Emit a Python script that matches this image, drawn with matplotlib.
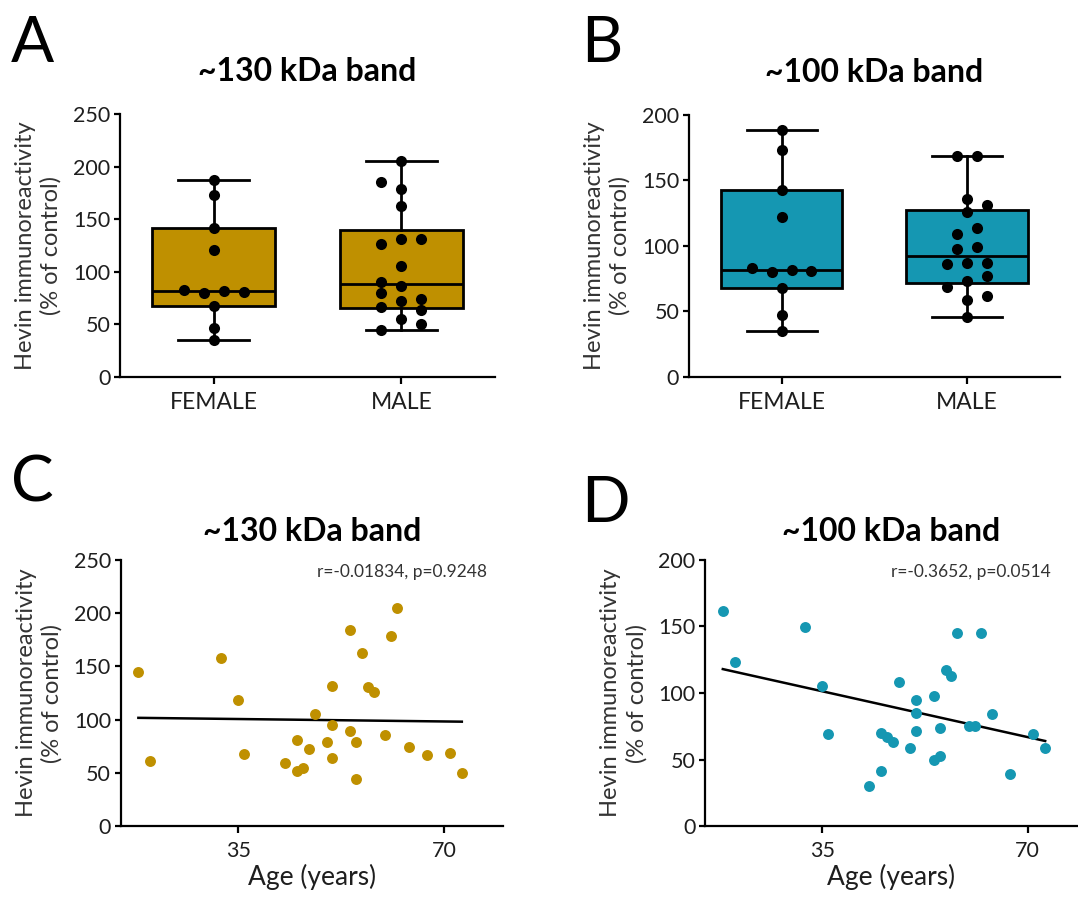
import numpy as np
import matplotlib
matplotlib.use('Agg')
import matplotlib.pyplot as plt

plt.rcParams['font.family'] = ['Lato', 'DejaVu Sans']

# ---- data ----
groups = ['FEMALE', 'MALE']

# ~130 kDa band, % of control
a_female = [187, 173, 142, 121, 82.5, 80, 81.5, 80.5, 67.5, 46.5, 35]
a_male = [205, 185, 178.5, 163, 131, 131.5, 126, 105.5, 90, 86.5, 79.5,
          72.5, 74.5, 66.5, 63.5, 55, 50, 44.5]

# ~100 kDa band, % of control
b_female = [188.5, 173, 142.5, 122, 83, 80.5, 81.5, 81, 68, 47, 35]
b_male = [168.5, 168.5, 136, 131.5, 126, 114, 109.5, 99.5, 97.5, 86, 87,
          87, 77, 73, 68.5, 61.5, 59, 45.5]

ages = [18, 20, 32, 35, 36, 43, 45, 45, 46, 47, 48, 50, 51, 51, 51, 54, 54,
        55, 55, 56, 57, 58, 60, 61, 62, 64, 67, 71, 73]
c_vals = [144.5, 61.5, 158, 118, 68, 59.5, 81, 51.5, 55, 72, 105, 79, 131.5,
          94.5, 63.5, 184.5, 89, 78.5, 44.5, 163, 130.5, 125.5, 86, 178.5,
          204.5, 74, 67, 68.5, 50]
d_vals = [162, 123.5, 149.5, 105, 69, 30, 70, 41, 67, 63, 108.5, 58.5, 95,
          85, 71.5, 98, 50, 74, 53, 117, 113, 145, 75, 75, 145, 84, 39, 69.5,
          58.5]

c_stats = 'r=-0.01834, p=0.9248'
d_stats = 'r=-0.3652, p=0.0514'

# ---- layout (dot spread inside each box, in category units) ----
f_off = [0, 0, 0, 0, -0.16, -0.053, 0.053, 0.16, 0, 0, 0]
a_m_off = [0, -0.107, 0, 0, 0, 0.107, -0.107, 0, -0.107, 0, -0.107, 0, 0.107,
           -0.107, 0.107, 0, 0.107, -0.107]
b_m_off = [-0.053, 0.053, 0, 0.107, 0, 0.053, -0.053, 0.053, -0.053, -0.107,
           0, 0.107, 0.107, 0, -0.107, 0.107, 0, 0]

gold = '#BF9000'
teal = '#1597B2'
txt = '#1e1e1e'

fig = plt.figure(figsize=(10.78, 9.01), dpi=100)


def style_axis(ax):
    for s in ['top', 'right']:
        ax.spines[s].set_visible(False)
    for s in ['left', 'bottom']:
        ax.spines[s].set_linewidth(1.6)
    ax.tick_params(axis='y', length=4, width=1.6, labelsize=15.5, colors='black',
                   labelcolor=txt, pad=3)
    ax.tick_params(axis='x', length=5, width=1.6, labelsize=15.5, colors='black',
                   labelcolor=txt, pad=6)
    ax.set_ylabel('Hevin immunoreactivity\n(% of control)', fontsize=17,
                  color='#333333', linespacing=1.25, labelpad=8)


def box_panel(rect, female, male, m_off, color, ymax, title, letter, lx, ly):
    ax = fig.add_axes(rect)
    stats = []
    for lab, vals in zip(groups, [female, male]):
        v = np.array(vals)
        q1, med, q3 = np.percentile(v, [25, 50, 75], method='weibull')
        stats.append(dict(label=lab, med=med, q1=q1, q3=q3,
                          whislo=v.min(), whishi=v.max(), fliers=[]))
    ax.bxp(stats, positions=[0, 1], widths=0.655, capwidths=0.376,
           patch_artist=True, showfliers=False,
           boxprops=dict(facecolor=color, edgecolor='black', linewidth=2),
           medianprops=dict(color='black', linewidth=2),
           whiskerprops=dict(color='black', linewidth=2),
           capprops=dict(color='black', linewidth=2))
    ax.plot(np.array(f_off), female, 'o', color='black', ms=8, mew=0, zorder=4)
    ax.plot(1 + np.array(m_off), male, 'o', color='black', ms=8, mew=0, zorder=4)
    ax.set_xlim(-0.5, 1.5)
    ax.set_ylim(0, ymax)
    ax.set_yticks(np.arange(0, ymax + 1, 50))
    ax.set_xticks([0, 1])
    ax.set_xticklabels(groups)
    style_axis(ax)
    ax.tick_params(axis='x', labelsize=16.5)
    ax.set_title(title, fontsize=23, fontweight='bold', pad=24, color='black')
    fig.text(lx, ly, letter, fontsize=46, color='black', va='baseline')
    return ax


def scatter_panel(rect, vals, color, ymax, xmax, title, stats_txt, sx, letter, lx, ly):
    ax = fig.add_axes(rect)
    ax.scatter(ages, vals, s=62, color=color, linewidths=0, zorder=3)
    slope, icpt = np.polyfit(ages, vals, 1)
    xs = np.array([min(ages), max(ages)])
    ax.plot(xs, slope * xs + icpt, color='black', lw=1.8, zorder=2)
    ax.set_xlim(15, xmax)
    ax.set_ylim(0, ymax)
    ax.set_yticks(np.arange(0, ymax + 1, 50))
    ax.set_xticks([35, 70])
    style_axis(ax)
    ax.set_xlabel('Age (years)', fontsize=19, color=txt, labelpad=2)
    ax.set_title(title, fontsize=23, fontweight='bold', pad=14, color='black')
    ax.text(sx, 0.955, stats_txt, transform=ax.transAxes, ha='right',
            va='center', fontsize=12.5, color='#333333')
    fig.text(lx, ly, letter, fontsize=46, color='black', va='baseline')
    return ax


box_panel([0.1113, 0.5816, 0.3479, 0.2919], a_female, a_male, a_m_off, gold,
          250, '~130 kDa band', 'A', 0.010, 0.931)
box_panel([0.6391, 0.5816, 0.3442, 0.2908], b_female, b_male, b_m_off, teal,
          200, '~100 kDa band', 'B', 0.539, 0.931)
scatter_panel([0.112, 0.0832, 0.3546, 0.2953], c_vals, gold, 250, 80,
              '~130 kDa band', c_stats, 0.958, 'C', 0.010, 0.443)
scatter_panel([0.6542, 0.0832, 0.3447, 0.2953], d_vals, teal, 200, 78.4,
              '~100 kDa band', d_stats, 0.93, 'D', 0.539, 0.421)

fig.savefig('out.png', dpi=100, facecolor='white')
